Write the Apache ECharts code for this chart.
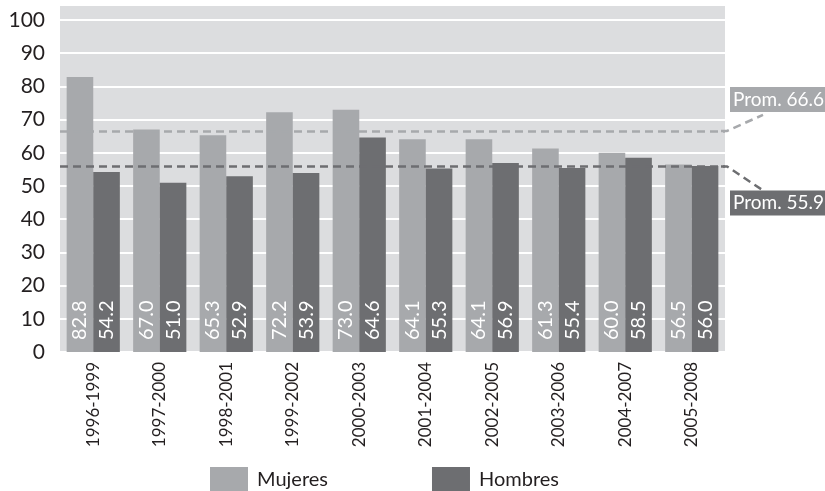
<!DOCTYPE html>
<html>
<head>
<meta charset="utf-8">
<script src="https://cdn.jsdelivr.net/npm/echarts@6/dist/echarts.min.js"></script>
<style>
  html, body { margin: 0; padding: 0; background: #fff; }
  #chart { width: 825px; height: 491px; }
</style>
</head>
<body>
<div id="chart"></div>
<script>
var categories = ['1996-1999', '1997-2000', '1998-2001', '1999-2002', '2000-2003',
                  '2001-2004', '2002-2005', '2003-2006', '2004-2007', '2005-2008'];
var mujeres = [82.8, 67.0, 65.3, 72.2, 73.0, 64.1, 64.1, 61.3, 60.0, 56.5];
var hombres = [54.2, 51.0, 52.9, 53.9, 64.6, 55.3, 56.9, 55.4, 58.5, 56.0];
var promMujeres = 66.6;
var promHombres = 55.9;

var LIGHT = '#a7a9ac';
var DARK = '#6d6e71';
var FONT = 'Lato, "DejaVu Sans", sans-serif';

var chart = echarts.init(document.getElementById('chart'));

function barLabel() {
    return {
        show: true,
        position: 'insideBottom',
        rotate: 90,
        align: 'left',
        verticalAlign: 'middle',
        distance: 12,
        color: '#fff',
        fontSize: 20,
        fontFamily: FONT,
        formatter: function (p) { return p.value.toFixed(1); }
    };
}

var option = {
    animation: false,
    textStyle: { fontFamily: FONT },
    grid: {
        left: 60, right: 100, top: 20, bottom: 139,
        show: true, backgroundColor: '#dcdddf', borderWidth: 0
    },
    legend: {
        left: 205, top: 462,
        itemWidth: 38, itemHeight: 26, itemGap: 104,
        icon: 'rect',
        textStyle: { fontSize: 20, color: '#231f20', fontFamily: FONT, padding: [0, 0, 0, 4] },
        data: ['Mujeres', 'Hombres']
    },
    xAxis: {
        type: 'category',
        data: categories,
        axisLine: { show: false },
        axisTick: { show: false },
        axisLabel: { rotate: 90, margin: 10, fontSize: 17, color: '#231f20', fontFamily: FONT }
    },
    yAxis: {
        type: 'value',
        min: 0, max: 100, interval: 10,
        axisLine: { show: false },
        axisTick: { show: false },
        axisLabel: { margin: 15, fontSize: 21, color: '#231f20', fontFamily: FONT },
        splitLine: { lineStyle: { color: '#fff', width: 2 } }
    },
    series: [
        {
            name: 'Mujeres', type: 'bar', data: mujeres,
            itemStyle: { color: LIGHT },
            barGap: 0, barCategoryGap: '20%',
            label: barLabel(),
            markLine: {
                silent: true, symbol: 'none', z: 10,
                label: { show: false },
                lineStyle: { color: LIGHT, type: [8, 5], width: 2.5 },
                data: [{ yAxis: promMujeres }]
            }
        },
        {
            name: 'Hombres', type: 'bar', data: hombres,
            itemStyle: { color: DARK },
            label: barLabel(),
            markLine: {
                silent: true, symbol: 'none', z: 10,
                label: { show: false },
                lineStyle: { color: DARK, type: [8, 5], width: 2.5 },
                data: [{ yAxis: promHombres }]
            }
        }
    ]
};
chart.setOption(option);

// top strip of the grey background, averages callouts
var gridRect = chart.getModel().getComponent('grid').coordinateSystem.getRect();
var xr = gridRect.x + gridRect.width;
var yM = chart.convertToPixel({ yAxisIndex: 0 }, promMujeres);
var yH = chart.convertToPixel({ yAxisIndex: 0 }, promHombres);

chart.setOption({
    graphic: [
        {
            type: 'rect', z: -1, silent: true,
            shape: { x: gridRect.x, y: gridRect.y - 14, width: gridRect.width, height: 14 },
            style: { fill: '#dcdddf' }
        },
        {
            type: 'polyline', silent: true,
            shape: { points: [[xr - 4, yM], [xr + 2, yM], [xr + 38, yM - 16]] },
            style: { stroke: LIGHT, lineWidth: 2.5, lineDash: [8, 5], fill: null }
        },
        {
            type: 'polyline', silent: true,
            shape: { points: [[xr - 4, yH], [xr + 2, yH], [xr + 38, yH + 24]] },
            style: { stroke: DARK, lineWidth: 2.5, lineDash: [8, 5], fill: null }
        },
        {
            type: 'text', silent: true,
            x: xr + 5, y: yM - 44,
            style: {
                text: 'Prom. 66.6', fill: '#fff', fontSize: 19, fontFamily: FONT,
                backgroundColor: LIGHT, padding: [3, 4, 3, 3]
            }
        },
        {
            type: 'text', silent: true,
            x: xr + 5, y: yH + 24,
            style: {
                text: 'Prom. 55.9', fill: '#fff', fontSize: 19, fontFamily: FONT,
                backgroundColor: DARK, padding: [3, 4, 3, 3]
            }
        }
    ]
});
</script>
</body>
</html>
